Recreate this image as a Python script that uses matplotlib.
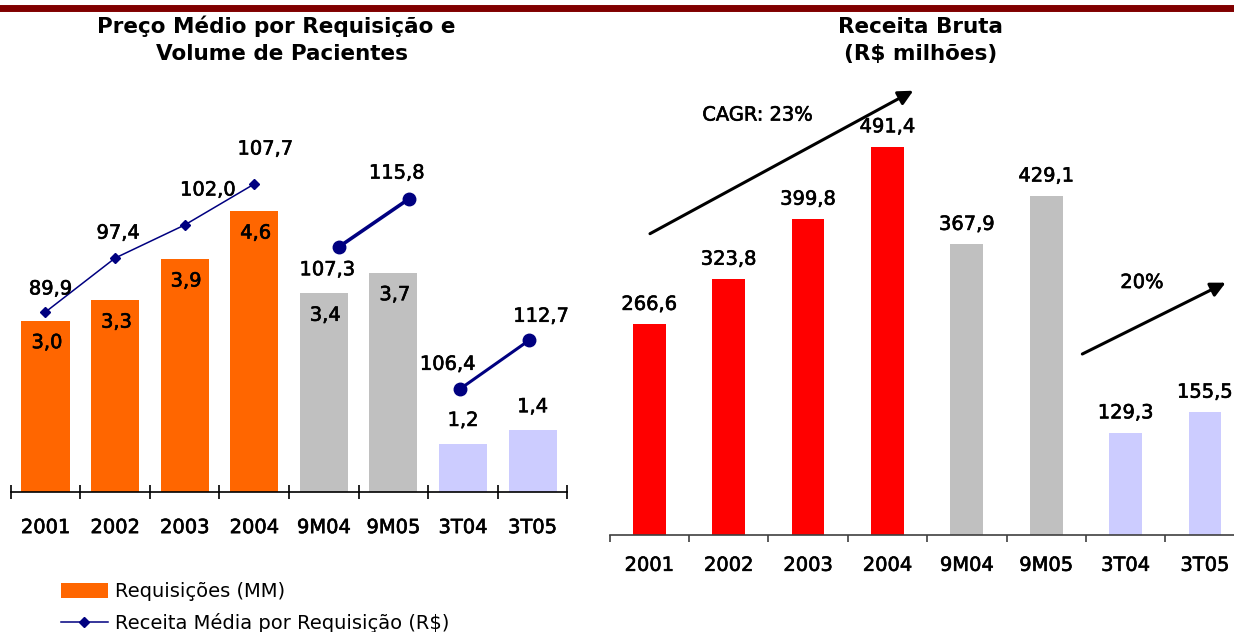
import matplotlib
matplotlib.use("Agg")
import matplotlib.pyplot as plt
from matplotlib.lines import Line2D
import matplotlib.patheffects as pe
import numpy as np

# ---------------- data ----------------
categories = ["2001", "2002", "2003", "2004", "9M04", "9M05", "3T04", "3T05"]
requisicoes = [3.0, 3.3, 3.9, 4.6, 3.4, 3.7, 1.2, 1.4]
req_labels = ["3,0", "3,3", "3,9", "4,6", "3,4", "3,7", "1,2", "1,4"]
receita_media_anual = [89.9, 97.4, 102.0, 107.7]
receita_media_9m = [107.3, 115.8]
receita_media_3t = [106.4, 112.7]
receita_bruta = [266.6, 323.8, 399.8, 491.4, 367.9, 429.1, 129.3, 155.5]

def br(v):
    return f"{v:.1f}".replace(".", ",")

ORANGE = "#FF6600"
GRAY = "#C0C0C0"
LAV = "#CCCCFF"
RED = "#FF0000"
NAVY = "#000080"
left_colors = [ORANGE] * 4 + [GRAY] * 2 + [LAV] * 2
right_colors = [RED] * 4 + [GRAY] * 2 + [LAV] * 2

BOLDEN = [pe.withStroke(linewidth=0.45, foreground="black")]
NUMFONT = dict(family="DejaVu Sans", size=14, path_effects=BOLDEN)

W, H = 1234, 632
fig = plt.figure(figsize=(W / 100, H / 100), dpi=100)

def fx(px):
    return px / W

def fy(py):
    return 1 - py / H

# top rule
fig.add_artist(Line2D([0, 1], [fy(7.5), fy(7.5)], transform=fig.transFigure,
                      color="#800000", lw=5))

# titles
TFONT = dict(fontsize=15.5, fontweight="bold", family="DejaVu Sans")
fig.text(fx(276), fy(33), "Preço Médio por Requisição e", ha="center", va="baseline", **TFONT)
fig.text(fx(282), fy(60), "Volume de Pacientes", ha="center", va="baseline", **TFONT)
fig.text(fx(921), fy(33), "Receita Bruta", ha="center", va="baseline", **TFONT)
fig.text(fx(921), fy(60), "(R$ milhões)", ha="center", va="baseline", **TFONT)

# ---------------- left chart ----------------
L_left, L_right, L_bot, L_top = 10.7, 567.4, 491.7, 100
axL = fig.add_axes([fx(L_left), fy(L_bot), (L_right - L_left) / W, (L_bot - L_top) / H])
x = np.arange(len(categories))
bars = axL.bar(x, requisicoes, width=0.69, color=left_colors, bottom=0, zorder=2,
               label="Requisições (MM)")
axL.set_xlim(-0.5, len(categories) - 0.5)
axL.set_ylim(0.504, 0.504 + (L_bot - L_top) / 68.5)
for i, (v, lab) in enumerate(zip(requisicoes, req_labels)):
    if i < 6:
        axL.annotate(lab, (x[i], v), xytext=(1, -15.8), textcoords="offset points",
                     ha="center", va="center", **NUMFONT)
    else:
        axL.annotate(lab, (x[i], v), xytext=(0, 17), textcoords="offset points",
                     ha="center", va="center", **NUMFONT)
for s in ["top", "left", "right"]:
    axL.spines[s].set_visible(False)
axL.spines["bottom"].set_color("black")
axL.spines["bottom"].set_linewidth(1.2)
axL.set_yticks([])
axL.set_xticks(x)
axL.set_xticklabels(categories, **NUMFONT)
axL.tick_params(axis="x", which="major", length=0, pad=19)
axL.set_xticks(np.arange(-0.5, len(categories)), minor=True)
axL.tick_params(axis="x", which="minor", direction="inout", length=10, width=1.2, color="black")

def twin(lo, hi):
    a = axL.twinx()
    a.set_ylim(lo, hi)
    a.axis("off")
    return a

def seg_limits(v0, py0, scale):
    lo = v0 - (L_bot - py0) / scale
    return lo, lo + (L_bot - L_top) / scale

a1 = twin(*seg_limits(89.9, 312.0, 7.19))
a2 = twin(*seg_limits(107.3, 246.7, 5.61))
a3 = twin(*seg_limits(106.4, 389.3, 7.78))

x1 = x[0:4]
x2 = x[4:6] + 0.22
x3 = x[6:8] - 0.05
line1, = a1.plot(x1, receita_media_anual, color=NAVY, lw=1.1, marker="D", ms=5,
                 label="Receita Média por Requisição (R$)")
a2.plot(x2, receita_media_9m, color=NAVY, lw=2.6, marker="o", ms=9)
a3.plot(x3, receita_media_3t, color=NAVY, lw=2.2, marker="o", ms=9)

offs1 = [(3.6, 16.6), (2.2, 18), (16.6, 25.2), (7.9, 25.2)]
for xi, v, o in zip(x1, receita_media_anual, offs1):
    a1.annotate(br(v), (xi, v), xytext=o, textcoords="offset points",
                ha="center", va="center", **NUMFONT)
offs2 = [(-8.6, -16.6), (-8.6, 18.7)]
for xi, v, o in zip(x2, receita_media_9m, offs2):
    a2.annotate(br(v), (xi, v), xytext=o, textcoords="offset points",
                ha="center", va="center", **NUMFONT)
offs3 = [(-8.6, 18), (8.6, 17.3)]
for xi, v, o in zip(x3, receita_media_3t, offs3):
    a3.annotate(br(v), (xi, v), xytext=o, textcoords="offset points",
                ha="center", va="center", **NUMFONT)

# legend
fig.legend(handles=[bars, line1], labels=["Requisições (MM)", "Receita Média por Requisição (R$)"],
           loc="upper left", bbox_to_anchor=(fx(61), fy(582)), frameon=False,
           borderpad=0, borderaxespad=0, handlelength=2.4, handleheight=0.8,
           handletextpad=0.38, labelspacing=0.62,
           prop=dict(family="DejaVu Sans", size=14))

# ---------------- right chart ----------------
R_left, R_step, R_bot, R_top = 609.5, 79.4, 535.0, 100
axR = fig.add_axes([fx(R_left), fy(R_bot), 8 * R_step / W, (R_bot - R_top) / H])
axR.bar(x, receita_bruta, width=0.415, color=right_colors, zorder=2)
axR.set_xlim(-0.5, len(categories) - 0.5)
axR.set_ylim(0, (R_bot - R_top) / 0.79)
for xi, v in zip(x, receita_bruta):
    axR.annotate(br(v), (xi, v), xytext=(0, 14.4), textcoords="offset points",
                 ha="center", va="center", **NUMFONT)
for s in ["top", "left", "right"]:
    axR.spines[s].set_visible(False)
axR.spines["bottom"].set_color("#404040")
axR.spines["bottom"].set_linewidth(1.2)
axR.set_yticks([])
axR.set_xticks(x)
axR.set_xticklabels(categories, **NUMFONT)
axR.tick_params(axis="x", which="major", length=0, pad=15)
axR.set_xticks(np.arange(-0.5, len(categories)), minor=True)
axR.tick_params(axis="x", which="minor", direction="out", length=5, width=1.2, color="#404040")

arrow = dict(arrowstyle="-|>", mutation_scale=22, lw=2.2, color="black",
             shrinkA=0, shrinkB=0)
axR.annotate("", xy=(3.326, 562.4), xytext=(0.01, 381.4), arrowprops=arrow,
             annotation_clip=False)
axR.annotate("", xy=(7.26, 319.4), xytext=(5.455, 229.1), arrowprops=arrow,
             annotation_clip=False)
axR.text(1.366, 531.6, "CAGR: 23%", ha="center", va="center", **NUMFONT)
axR.text(6.206, 319.6, "20%", ha="center", va="center", **NUMFONT)

fig.savefig("out.png", dpi=100)
